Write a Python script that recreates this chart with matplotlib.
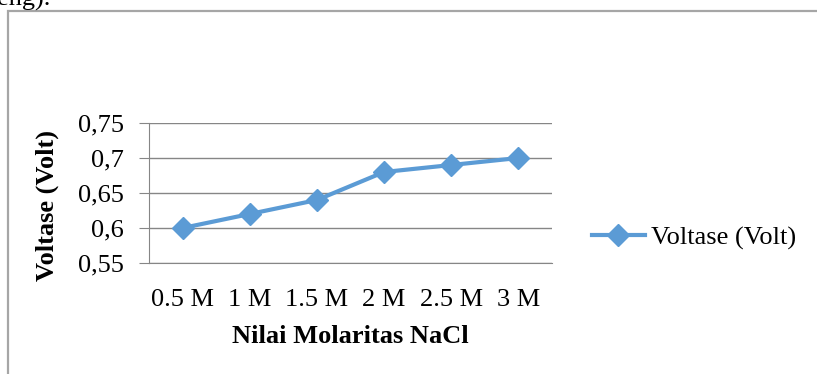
import matplotlib
matplotlib.use("Agg")
import matplotlib.pyplot as plt
from matplotlib.patches import Rectangle

plt.rcParams["font.family"] = ["Liberation Serif", "DejaVu Serif"]

categories = ["0.5 M", "1 M", "1.5 M", "2 M", "2.5 M", "3 M"]
voltase = [0.60, 0.62, 0.64, 0.68, 0.69, 0.70]
yticks = [0.55, 0.60, 0.65, 0.70, 0.75]
ytick_labels = ["0,55", "0,6", "0,65", "0,7", "0,75"]

BLUE = "#5B9BD5"
GRID = "#868686"
FS = 19

fig = plt.figure(figsize=(8.17, 3.74), dpi=100)

# bingkai chart
fig.patches.append(Rectangle((8 / 817, -0.05), 1.0, 1 - 11 / 374 + 0.05, transform=fig.transFigure,
                             fill=False, edgecolor="#A6A6A6", lw=1.6, clip_on=False))
fig.text(-0.004, 1 - 6 / 374, "eng).", fontsize=FS, va="baseline", ha="left")

ax = fig.add_axes([149 / 817, 1 - 263 / 374, 403 / 817, 140 / 374])
x = list(range(len(categories)))
ax.plot(x, voltase, color=BLUE, lw=3, marker="D", ms=11, mec=BLUE, mfc=BLUE,
        label="Voltase (Volt)", clip_on=False, zorder=3)

ax.set_xlim(-0.5, len(categories) - 0.5)
ax.set_ylim(0.55, 0.75)
ax.set_yticks(yticks)
ax.set_yticklabels(ytick_labels, fontsize=FS)
ax.set_xticks(x)
ax.set_xticklabels(categories, fontsize=FS)
ax.yaxis.grid(True, color=GRID, lw=1)
ax.set_axisbelow(True)
for s in ["top", "right"]:
    ax.spines[s].set_visible(False)
ax.spines["left"].set_color(GRID)
ax.spines["bottom"].set_color(GRID)
ax.tick_params(axis="y", length=7, color=GRID, pad=11)
ax.tick_params(axis="x", length=0, pad=19)

ax.set_ylabel("Voltase (Volt)", fontsize=FS, fontweight="bold")
ax.yaxis.set_label_coords(-90 / 403, 0.41)
ax.set_xlabel("Nilai Molaritas NaCl", fontsize=FS, fontweight="bold", labelpad=10)

fig.legend(loc="center left", bbox_to_anchor=(592 / 817, 1 - 238 / 374), frameon=False,
           fontsize=FS, handlelength=2.0, handletextpad=0.25, borderaxespad=0, borderpad=0)

fig.savefig("out.png", dpi=100)
